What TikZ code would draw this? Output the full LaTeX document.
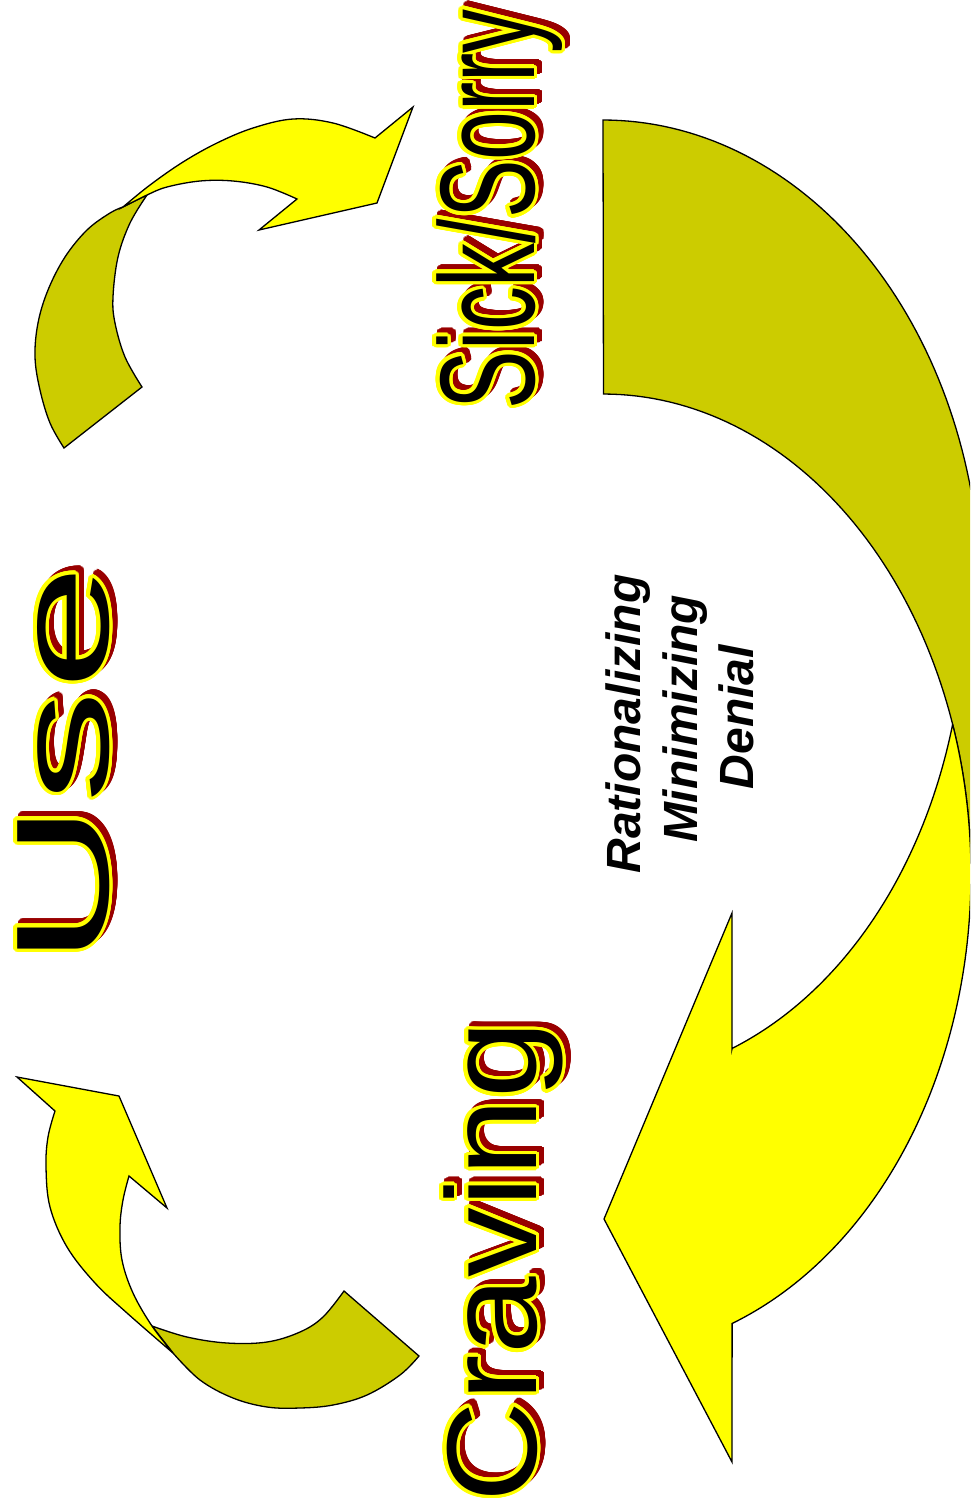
\documentclass[tikz,border=0pt]{standalone}
\usepackage{fontspec}
\usepackage{graphicx}
\newfontfamily\artfont{Liberation Sans}
\definecolor{backolive}{HTML}{CCCC00}
\definecolor{frontyellow}{HTML}{FFFF00}
\definecolor{shadowred}{HTML}{990000}
\tikzset{
  shapeline/.style={draw=black, line width=1.3pt, line join=miter},
  backpart/.style={shapeline, fill=backolive},
  frontpart/.style={shapeline, fill=frontyellow},
  artw/.style={rotate=90, anchor=base west, inner sep=0pt, outer sep=0pt},
  sidetext/.style={rotate=90, anchor=base, inner sep=0pt, outer sep=0pt,
    font=\artfont\bfseries\itshape\fontsize{48}{48}\selectfont},
}
% name, x (baseline), y (start), size, xscale, text
\newcommand\artword[6]{%
  \foreach \a [count=\nn] in {0,15,...,345}{
    \node[artw, text=shadowred, font=\artfont\fontsize{#4}{#4}\selectfont]
      (#1-r\nn) at ({#2+5+3.5*cos(\a)},{#3-5+3.5*sin(\a)}) {\scalebox{#5}[1]{#6}};
  }
  \node[artw, text=shadowred, font=\artfont\fontsize{#4}{#4}\selectfont]
      (#1-r0) at ({#2+5},{#3-5}) {\scalebox{#5}[1]{#6}};
  \foreach \a [count=\nn] in {0,15,...,345}{
    \node[artw, text=frontyellow, font=\artfont\fontsize{#4}{#4}\selectfont]
      (#1-y\nn) at ({#2+3.5*cos(\a)},{#3+3.5*sin(\a)}) {\scalebox{#5}[1]{#6}};
  }
  \node[artw, text=black, font=\artfont\fontsize{#4}{#4}\selectfont]
      (#1) at (#2,#3) {\scalebox{#5}[1]{#6}};
}
\begin{document}
\begin{tikzpicture}[x=1pt,y=-1pt]
\useasboundingbox (0,0) rectangle (970,1508);
\fill[white] (0,0) rectangle (970,1508);
\clip (0,0) rectangle (970,1508);

% ---- big curved arrow (right) ----
\filldraw[backpart] (603,120)
  -- plot[domain=0:1, samples=70, variable=\t] ({603+378*cos(90-90*\t)}, {600-480*sin(90-90*\t)})
  -- (990,600) -- (990,874) -- (971,874)
  -- plot[domain=0:1, samples=70, variable=\t] ({603+368*cos(90*\t)}, {874-480*sin(90*\t)})
  -- cycle;
\filldraw[frontpart]
  plot[domain=0:1, samples=90, variable=\t] ({603+368*cos(18.2-87.7*\t)}, {874-480*sin(18.2-87.7*\t)})
  -- (732,1462) -- (604,1219) -- (732,913) -- (732,1049)
  -- plot[domain=0:1, samples=60, variable=\t] ({603+362*cos(-69.1+54.13*\t)}, {600-480*sin(-69.1+54.13*\t)})
  -- cycle;

% ---- top-left curved arrow ----
\filldraw[backpart]
  plot[smooth, tension=0.6] coordinates {(64,448) (50,423) (40,390) (35,357) (38,323) (48,290) (65,257) (87,230) (110,213) (123,207)}
  -- (147,195)
  -- plot[smooth, tension=0.6] coordinates {(147,195) (130,223) (118,257) (113,297) (115,323) (125,357) (142,387)}
  -- cycle;
\filldraw[frontpart]
  plot[smooth, tension=0.6] coordinates {(123,207) (150,185) (183,162) (217,143) (253,128) (293,119) (333,123) (375,138)}
  -- (413,107) -- (377,203) -- (259,230) -- (297,199)
  -- plot[smooth, tension=0.6] coordinates {(297,199) (267,187) (233,181) (200,181) (167,187) (147,195) (123,207)}
  -- cycle;

% ---- bottom-left curved arrow ----
\filldraw[backpart]
  plot[smooth, tension=0.6] coordinates {(152,1326) (187,1337) (227,1343) (267,1342) (300,1332) (323,1317) (344,1291)}
  -- (419,1356)
  -- plot[smooth, tension=0.6] coordinates {(419,1356) (400,1375) (367,1395) (333,1405) (300,1408) (267,1407) (233,1398) (200,1380) (173,1353)}
  -- cycle;
\filldraw[frontpart] (55,1111) -- (17,1077) -- (119,1096) -- (167,1208) -- (129,1176)
  -- plot[smooth, tension=0.6] coordinates {(129,1176) (123,1200) (120,1227) (122,1260) (133,1293) (152,1326) (173,1353)}
  -- plot[smooth, tension=0.6] coordinates {(173,1353) (127,1313) (95,1283) (67,1247) (50,1207) (46,1167) (48,1137) (55,1111)}
  -- cycle;

% ---- word art ----
\artword{use}{108}{966}{132}{1.71}{Use}
\artword{sick}{534}{409}{135}{0.65}{Sick/Sorry}
\artword{craving}{536}{1502}{128}{1.09}{Craving}

% ---- side labels ----
\node[sidetext] (rat) at (640,724) {Rationalizing};
\node[sidetext] (min) at (697,719) {Minimizing};
\node[sidetext] (den) at (753,717) {Denial};
\end{tikzpicture}
\end{document}
